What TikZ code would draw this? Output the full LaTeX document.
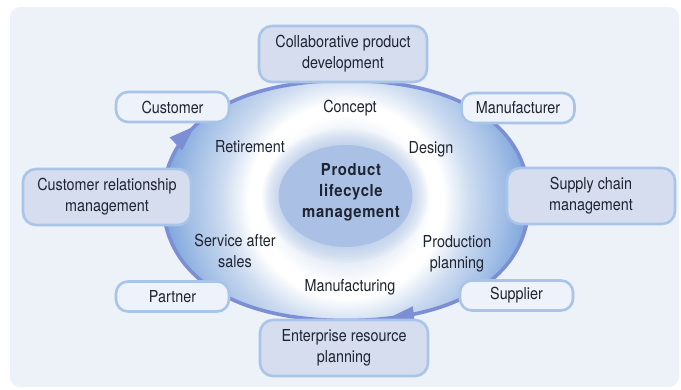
\documentclass[tikz,border=0pt]{standalone}
\usepackage{fontspec}
\setmainfont{TeX Gyre Heros}[FakeStretch=0.87]
\newfontfamily\plmfont{TeX Gyre Heros}[FakeStretch=0.9,LetterSpace=4]
\usetikzlibrary{arrows.meta,decorations.markings}
\definecolor{bgc}{HTML}{EDF1F8}
\definecolor{bigfill}{HTML}{D6DDEF}
\definecolor{smallfill}{HTML}{EEF2FA}
\definecolor{bordc}{HTML}{A9C4E9}
\definecolor{arcc}{HTML}{7D8FD4}
\definecolor{innerc}{HTML}{AAC1E5}
\definecolor{txtc}{HTML}{1E2430}
\definecolor{gzero}{HTML}{D4E0F2}
\definecolor{gone}{HTML}{E2EAF6}
\definecolor{gtwo}{HTML}{CCDBF0}
\definecolor{gthree}{HTML}{A4C0E6}
\definecolor{gfour}{HTML}{6B9AD8}
\pgfdeclareradialshading{plmgrad}{\pgfpoint{0bp}{0bp}}{color(0bp)=(gzero); color(7.5bp)=(gone); color(11bp)=(white); color(12.5bp)=(white); color(16bp)=(gtwo); color(20bp)=(gthree); color(25bp)=(gfour); color(50bp)=(gfour)}
\tikzset{
  plmblob/.style={insert path={(529,200.5) .. controls (529,274.9) and (459.5,320.5) .. (346,320.5) .. controls (232.5,320.5) and (163,274.9) .. (163,200.5) .. controls (163,126.1) and (232.5,80.5) .. (346,80.5) .. controls (459.5,80.5) and (529,126.1) .. (529,200.5) -- cycle}},
  basefont/.style={font=\fontsize{16.5}{21}\selectfont, text=txtc},
  bigbox/.style={basefont, draw=bordc, line width=2.6pt, fill=bigfill, rounded corners=13pt, minimum width=168pt, minimum height=56pt, inner sep=0pt, align=center},
  smallbox/.style={basefont, draw=bordc, line width=2.6pt, fill=smallfill, rounded corners=12pt, minimum width=113pt, minimum height=30pt, inner sep=0pt, align=center},
  stagelabel/.style={basefont, align=center, inner sep=0pt},
  plmarrow/.style={arcc, line width=3.6pt, postaction={decorate}, decoration={markings,
      mark=at position 0.207 with {\arrow{Triangle[length=26pt,width=17pt]}},
      mark=at position 0.585 with {\arrow{Triangle[length=26pt,width=17pt]}}}}
}
\begin{document}
\begin{tikzpicture}[x=1pt,y=-1pt]
\useasboundingbox (0,0) rectangle (681,389);
\fill[bgc, rounded corners=10pt] (10,7) rectangle (679,387);
% gradient ring
\begin{scope}
  \clip[plmblob];
  \shade[shading=plmgrad] (346,200.5) circle[radius=195pt];
\end{scope}
% outline with arrows
\draw[plmarrow, plmblob];
% inner ellipse with glow
\foreach \d in {2,4,...,16}
  \fill[innerc, opacity=0.07] (345.5,196) ellipse [x radius=67pt+\d pt, y radius=51pt+\d pt];
\fill[innerc] (345.5,196) ellipse [x radius=67pt, y radius=51pt];
\node[basefont, align=center, inner sep=0pt] (plm) at (351,192) {\plmfont\bfseries Product\\\plmfont\bfseries lifecycle\\\plmfont\bfseries management};
% stage labels
\node[stagelabel] (concept) at (350,108.5) {Concept};
\node[stagelabel] (design) at (431,149.5) {Design};
\node[stagelabel] (retire) at (250,147) {Retirement};
\node[stagelabel] (service) at (235,251) {Service after\\sales};
\node[stagelabel] (prodplan) at (457,254) {Production\\planning};
\node[stagelabel] (manuf) at (350,287) {Manufacturing};
% boxes
\node[bigbox] (collab) at (343,54) {Collaborative product\\development};
\node[bigbox] (crm) at (107,197) {Customer relationship\\management};
\node[bigbox] (scm) at (591,196) {Supply chain\\management};
\node[bigbox] (erp) at (344,348) {Enterprise resource\\planning};
\node[smallbox] (customer) at (172.5,107) {Customer};
\node[smallbox] (manufacturer) at (518,108) {Manufacturer};
\node[smallbox] (partner) at (172.5,296.5) {Partner};
\node[smallbox] (supplier) at (516.5,295.5) {Supplier};
\end{tikzpicture}
\end{document}
